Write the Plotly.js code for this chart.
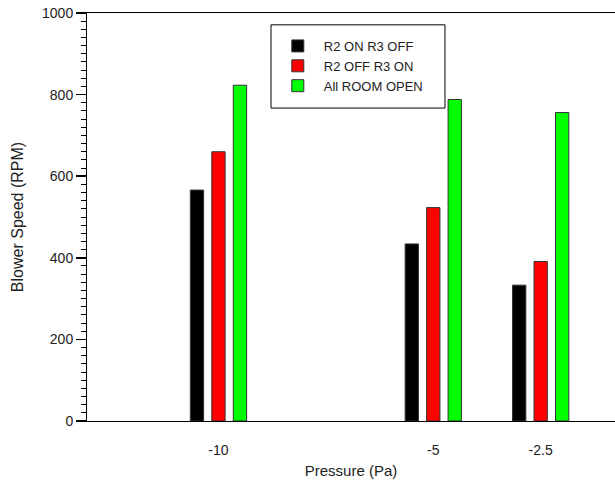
<!DOCTYPE html>
<html>
<head>
<meta charset="utf-8">
<script src="https://cdn.plot.ly/plotly-3.0.1.min.js"></script>
<style>html,body{margin:0;padding:0;background:#fff;}#chart{width:615px;height:485px;}</style>
</head>
<body>
<div id="chart"></div>
<script>
// Data
const pressure = [-10, -5, -2.5];
const seriesNames = ["R2 ON R3 OFF", "R2 OFF R3 ON", "All ROOM OPEN"];
const r2OnR3Off = [566, 434, 333];
const r2OffR3On = [660, 523, 391];
const allRoomOpen = [823, 788, 756];
const xTickVals = [-10, -5, -2.5];
const xTickText = ["-10", "-5", "-2.5"];

const colors = ["#000000", "#ff0000", "#00ff00"];
const offsets = [-0.655, -0.155, 0.345];
const seriesValues = [r2OnR3Off, r2OffR3On, allRoomOpen];

const font = "Liberation Sans, Arial, sans-serif";

const traces = seriesValues.map((vals, i) => ({
  type: "bar",
  x: pressure,
  y: vals,
  name: seriesNames[i],
  width: 0.31,
  offset: offsets[i],
  marker: {color: colors[i], line: {color: "#333333", width: 1}}
}));

const layout = {
  width: 615,
  height: 485,
  margin: {l: 87, r: 0, t: 13, b: 64},
  paper_bgcolor: "#ffffff",
  plot_bgcolor: "#ffffff",
  barmode: "overlay",
  showlegend: true,
  font: {family: font, color: "#222222"},
  legend: {
    x: 0.35, y: 0.956, xanchor: "left", yanchor: "top",
    borderwidth: 0, bgcolor: "rgba(0,0,0,0)",
    itemwidth: 42,
    font: {family: font, size: 13, color: "#222222"},
    tracegroupgap: 0
  },
  shapes: [{
    type: "rect", xref: "paper", yref: "paper",
    x0: 0.3485, x1: 0.678, y0: 0.767, y1: 0.971,
    line: {color: "#000000", width: 1}, fillcolor: "rgba(0,0,0,0)", layer: "above"
  }],
  xaxis: {
    range: [-13.06, -0.77],
    tickvals: xTickVals,
    ticktext: xTickText,
    ticks: "outside", ticklen: 16, tickcolor: "rgba(0,0,0,0)",
    showgrid: false, zeroline: false,
    showline: true, mirror: true, linecolor: "#000000", linewidth: 1,
    tickfont: {family: font, size: 14, color: "#222222"},
    title: {text: "Pressure (Pa)", font: {family: font, size: 15, color: "#222222"}, standoff: 8}
  },
  yaxis: {
    range: [0, 1000],
    dtick: 200,
    ticks: "outside", ticklen: 10, tickwidth: 1.5, tickcolor: "#000000",
    minor: {dtick: 20, ticks: "outside", ticklen: 5, tickcolor: "#000000", tickwidth: 1},
    showgrid: false, zeroline: false,
    showline: true, linecolor: "#000000", linewidth: 1,
    tickfont: {family: font, size: 14, color: "#222222"},
    title: {text: "Blower Speed (RPM)", font: {family: font, size: 16, color: "#222222"}, standoff: 14}
  }
};

Plotly.newPlot("chart", traces, layout, {displayModeBar: false, staticPlot: true});
</script>
</body>
</html>
